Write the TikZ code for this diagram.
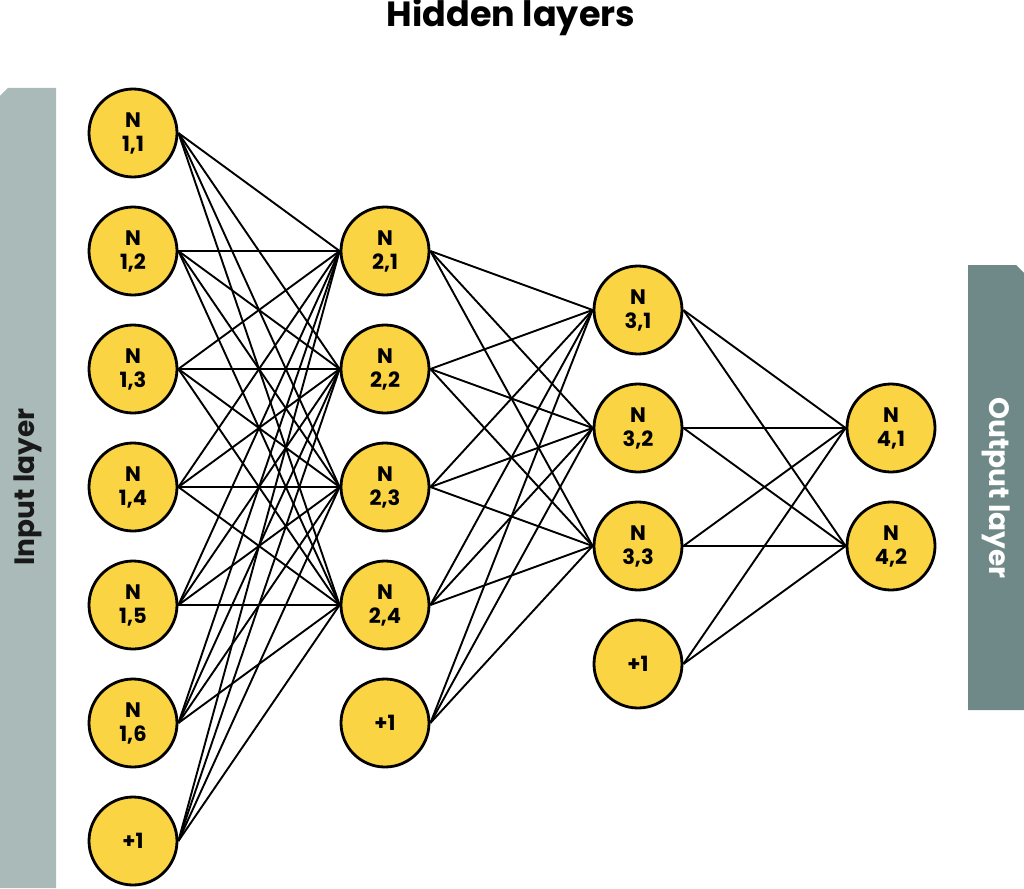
\documentclass[tikz,border=0pt]{standalone}
\usepackage{fontspec}
\newfontfamily\pop{Poppins}
\begin{document}
\begin{tikzpicture}[x=1pt,y=-1pt,
  neuron/.style={circle,draw=black,line width=2.8pt,fill=nyellow,minimum size=88pt,inner sep=0pt,align=center,font=\pop\bfseries\fontsize{21}{24}\selectfont},
  link/.style={line width=1.9pt,black},
  bartext/.style={font=\pop\bfseries\fontsize{28}{32}\selectfont}]
\definecolor{nyellow}{HTML}{FAD443}
\definecolor{inbar}{HTML}{A9BAB9}
\definecolor{outbar}{HTML}{6E8987}
\useasboundingbox (0,0) rectangle (1024,888);
% layer bars
\fill[inbar] (0,96) -- (8,88) -- (56,88) -- (56,888) -- (0,888) -- cycle;
\fill[outbar] (968,265) -- (1016,265) -- (1024,273) -- (1024,710) -- (968,710) -- cycle;
\node[bartext,rotate=90,text=black!90] (inlab) at (28,487) {Input layer};
\node[bartext,rotate=-90,text=white] (outlab) at (996,488) {Output layer};
\node[font=\pop\bfseries\fontsize{35}{40}\selectfont] (title) at (511,17) {Hidden layers};
% layer 1
\foreach \i in {1,...,6}{
  \node[neuron] (a\i) at (133,{133+118*(\i-1)}) {N\\1,\i};
}
\node[neuron] (ab) at (133,841) {+1};
% layer 2
\foreach \i in {1,...,4}{
  \node[neuron] (b\i) at (385,{251+118*(\i-1)}) {N\\2,\i};
}
\node[neuron] (bb) at (385,723) {+1};
% layer 3
\foreach \i in {1,...,3}{
  \node[neuron] (c\i) at (638,{310+118*(\i-1)}) {N\\3,\i};
}
\node[neuron] (cb) at (638,664) {+1};
% layer 4
\foreach \i in {1,2}{
  \node[neuron] (d\i) at (891,{428+118*(\i-1)}) {N\\4,\i};
}
% connections
\foreach \s in {1,...,6,b}{
  \foreach \t in {1,...,4}{
    \draw[link] (a\s.east) -- (b\t.west);
  }
}
\foreach \s in {1,...,4,b}{
  \foreach \t in {1,...,3}{
    \draw[link] (b\s.east) -- (c\t.west);
  }
}
\foreach \s in {1,...,3,b}{
  \foreach \t in {1,2}{
    \draw[link] (c\s.east) -- (d\t.west);
  }
}
\end{tikzpicture}
\end{document}
